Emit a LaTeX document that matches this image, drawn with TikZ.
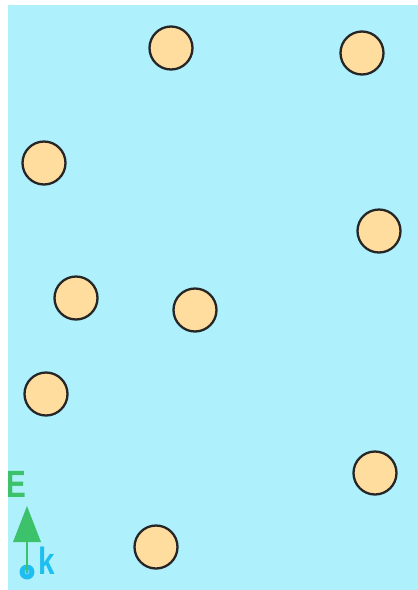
\documentclass[tikz,border=0pt]{standalone}
\usepackage{fontspec}
\setmainfont{Liberation Sans}
\definecolor{bg}{HTML}{AEF1FC}
\definecolor{ball}{HTML}{FFDD9E}
\definecolor{egreen}{HTML}{3CC26A}
\definecolor{kblue}{HTML}{1EBEF0}
\begin{document}
\begin{tikzpicture}[x=1pt,y=-1pt,
  ballst/.style={circle,draw=black!85,line width=2.3pt,fill=ball,minimum size=43pt,inner sep=0pt},
  lbl/.style={font=\fontsize{38}{38}\selectfont\bfseries,inner sep=0pt,xscale=0.78}]
\useasboundingbox (0,0) rectangle (418,590);
\fill[white] (0,0) rectangle (418,590);
\fill[bg] (8,5) rectangle (418,590);
\node[ballst] (b1) at (171,48) {};
\node[ballst] (b2) at (362,53) {};
\node[ballst] (b3) at (44,163) {};
\node[ballst] (b4) at (379,231) {};
\node[ballst] (b5) at (76,298) {};
\node[ballst] (b6) at (195,310) {};
\node[ballst] (b7) at (46,394) {};
\node[ballst] (b8) at (375,473) {};
\node[ballst] (b9) at (156,547) {};
% field and wave vector
\node[circle,fill=kblue,minimum size=15pt,inner sep=0pt] (kc) at (27,572) {};
\node[circle,draw=kblue!50!white,line width=0.6pt,minimum size=4pt,inner sep=0pt] at (kc) {};
\coordinate (tip) at (27,506);
\coordinate (base) at (27,542);
\draw[egreen,line width=2pt] (kc.center) -- (base);
\fill[egreen] (tip) -- (41,542) -- (13,542) -- cycle;
\node[lbl,text=egreen] (E) at (16,484) {E};
\node[lbl,text=kblue] (k) at (47,561) {k};
\end{tikzpicture}
\end{document}
